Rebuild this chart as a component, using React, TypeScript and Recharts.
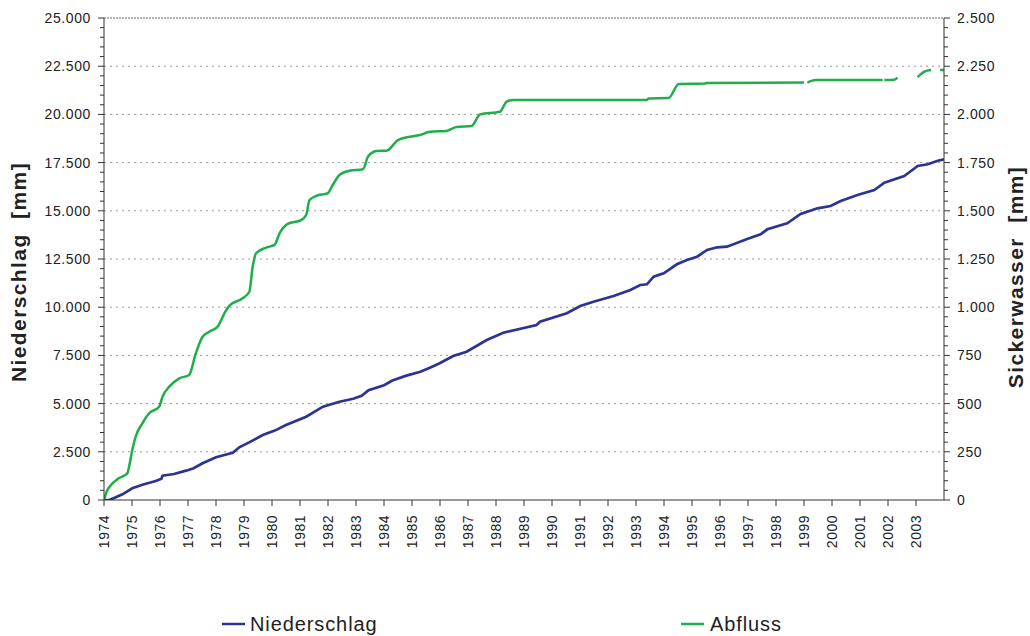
import React from "react";
import { LineChart, Line, XAxis, YAxis, ReferenceLine } from "recharts";

// Cumulative precipitation, left axis [mm]
const niederschlagZeit = [
  1974.0, 1974.18, 1974.4, 1974.66, 1975.01, 1975.4, 1975.85, 1976.05, 1976.09, 1976.5,
  1976.93, 1977.2, 1977.52, 1978.0, 1978.6, 1978.83, 1979.2, 1979.67, 1980.1, 1980.5,
  1981.22, 1981.82, 1982.41, 1982.9, 1983.2, 1983.45, 1984.0, 1984.3, 1984.8, 1985.3,
  1985.7, 1985.99, 1986.47, 1986.95, 1987.67, 1988.26, 1989.45, 1989.57, 1990.53, 1991.01,
  1991.48, 1992.2, 1992.8, 1993.15, 1993.39, 1993.63, 1993.99, 1994.46, 1994.82, 1995.18,
  1995.54, 1995.9, 1996.25, 1996.97, 1997.45, 1997.69, 1998.4, 1998.88, 1999.48, 1999.95,
  2000.31, 2000.91, 2001.51, 2001.87, 2002.58, 2003.06, 2003.42, 2003.78, 2004.0,
];
const niederschlagMm = [
  0, 0, 130, 295, 605, 800, 985, 1100, 1261, 1350,
  1521, 1650, 1903, 2215, 2454, 2734, 3000, 3371, 3600, 3890,
  4321, 4839, 5099, 5250, 5400, 5700, 5950, 6200, 6450, 6650,
  6900, 7090, 7469, 7692, 8299, 8679, 9077, 9248, 9684, 10062,
  10285, 10581, 10892, 11151, 11187, 11581, 11758, 12225, 12448, 12620,
  12967, 13107, 13138, 13538, 13779, 14040, 14350, 14834, 15128, 15249,
  15508, 15819, 16079, 16459, 16805, 17324, 17412, 17599, 17672,
];

// Cumulative runoff, right axis [mm]; null = missing record
const abflussZeit = [
  1974.0, 1974.1, 1974.25, 1974.5, 1974.83, 1974.92, 1975.01, 1975.13, 1975.37, 1975.61,
  1975.97, 1976.09, 1976.33, 1976.69, 1977.04, 1977.28, 1977.52, 1977.76, 1978.06, 1978.3,
  1978.48, 1978.95, 1979.19, 1979.31, 1979.43, 1979.79, 1980.09, 1980.27, 1980.56, 1981.04,
  1981.22, 1981.34, 1981.58, 1981.99, 1982.17, 1982.41, 1982.77, 1983.25, 1983.43, 1983.73,
  1984.09, 1984.5, 1984.92, 1985.28, 1985.64, 1986.23, 1986.59, 1987.13, 1987.43, 1988.14,
  1988.38, 1988.62, 1993.39, 1993.45, 1994.16, 1994.53, 1995.48, 1995.5, 1999.0, 1999.06,
  1999.12, 1999.42, 2001.81, 2001.84, 2001.87, 2002.22, 2002.34, 2002.7, 2003.06, 2003.3,
  2003.54, 2003.7, 2003.86, 2004.0,
];
const abflussMm = [
  0, 45, 78, 110, 138, 190, 259, 328, 398, 450,
  484, 536, 588, 631, 648, 761, 847, 873, 899, 968,
  1008, 1046, 1080, 1210, 1280, 1309, 1323, 1383, 1432, 1452,
  1478, 1556, 1577, 1591, 1634, 1686, 1708, 1715, 1781, 1810,
  1812, 1867, 1884, 1893, 1910, 1914, 1935, 1940, 2000, 2014,
  2066, 2075, 2075, 2083, 2085, 2158, 2160, 2163, 2165, null,
  2165, 2178, 2178, null, 2178, 2180, 2191, null, 2193, 2222,
  2230, null, 2230, 2230,
];

const jahre = Array.from({ length: 30 }, (_, i) => 1974 + i);
const linksTicks = Array.from({ length: 51 }, (_, i) => i * 500);
const rechtsTicks = Array.from({ length: 51 }, (_, i) => i * 50);
const gitterWerte = [2500, 5000, 7500, 10000, 12500, 15000, 17500, 20000, 22500];

const niederschlag = niederschlagZeit.map((t, i) => ({ t, v: niederschlagMm[i] }));
const abfluss = abflussZeit.map((t, i) => ({ t, v: abflussMm[i] }));

const FONT = "'Liberation Sans', Arial, sans-serif";
const BLAU = "#2b3492";
const GRUEN = "#1fae4b";
const ACHSE = "#333";

const fmt = (v: number) => String(v).replace(/\B(?=(\d{3})+(?!\d))/g, ".");

function LinksTick({ x, y, payload }: any) {
  const major = payload.value % 2500 === 0;
  return (
    <g>
      <line x1={x - (major ? 6 : 4)} x2={x} y1={y} y2={y} stroke={ACHSE} />
      {major && (
        <text x={x - 13} y={y} textAnchor="end" dominantBaseline="central" fontSize={14}
          letterSpacing={0.6} fill="#222" fontFamily={FONT}>
          {fmt(payload.value)}
        </text>
      )}
    </g>
  );
}

function RechtsTick({ x, y, payload }: any) {
  const major = payload.value % 250 === 0;
  return (
    <g>
      <line x1={x} x2={x + (major ? 6 : 4)} y1={y} y2={y} stroke={ACHSE} />
      {major && (
        <text x={x + 13} y={y} textAnchor="start" dominantBaseline="central" fontSize={14}
          letterSpacing={0.6} fill="#222" fontFamily={FONT}>
          {fmt(payload.value)}
        </text>
      )}
    </g>
  );
}

function JahrTick({ x, y, payload }: any) {
  return (
    <g>
      <line x1={x} x2={x} y1={y} y2={y + 6} stroke={ACHSE} />
      <text x={x} y={y + 15} transform={`rotate(-90, ${x}, ${y + 15})`} textAnchor="end"
        dominantBaseline="central" fontSize={14} letterSpacing={0.5} fill="#222" fontFamily={FONT}>
        {payload.value}
      </text>
    </g>
  );
}

export default function App() {
  return (
    <div style={{ position: "absolute", left: 0, top: 0, width: 1030, height: 636, background: "#fff" }}>
      <LineChart width={1030} height={636} margin={{ top: 18, right: 10, bottom: 86, left: 10 }}>
        <XAxis dataKey="t" type="number" domain={[1974, 2004]} ticks={jahre} interval={0}
          tick={<JahrTick />} tickLine={false} tickSize={0} tickMargin={0} height={50}
          axisLine={{ stroke: ACHSE }} allowDataOverflow />
        <YAxis yAxisId="links" orientation="left" domain={[0, 25000]} ticks={linksTicks} interval={0}
          tick={<LinksTick />} tickLine={false} tickSize={0} tickMargin={0} width={94}
          axisLine={{ stroke: ACHSE }} allowDataOverflow />
        <YAxis yAxisId="rechts" orientation="right" domain={[0, 2500]} ticks={rechtsTicks} interval={0}
          tick={<RechtsTick />} tickLine={false} tickSize={0} tickMargin={0} width={76}
          axisLine={{ stroke: ACHSE }} allowDataOverflow />
        {gitterWerte.map((g) => (
          <ReferenceLine key={g} yAxisId="links" y={g} stroke="#9a9a9a" strokeDasharray="2 4" />
        ))}
        <ReferenceLine yAxisId="links" y={25000} stroke="#666" strokeDasharray="2 1" />
        <Line data={niederschlag} yAxisId="links" dataKey="v" type="linear" stroke={BLAU}
          strokeWidth={2.7} dot={false} isAnimationActive={false} />
        <Line data={abfluss} yAxisId="rechts" dataKey="v" type="monotoneX" stroke={GRUEN}
          strokeWidth={2.5} dot={false} connectNulls={false} isAnimationActive={false} />
      </LineChart>
      <svg width={1030} height={636} style={{ position: "absolute", left: 0, top: 0, pointerEvents: "none" }}>
        <text x={18} y={272} transform="rotate(-90, 18, 272)" textAnchor="middle" dominantBaseline="central"
          fontSize={21} fontWeight="bold" fill="#222" fontFamily={FONT} letterSpacing={1.4}>
          {"Niederschlag\u00a0 [mm]"}
        </text>
        <text x={1015} y={277} transform="rotate(-90, 1015, 277)" textAnchor="middle" dominantBaseline="central"
          fontSize={21} fontWeight="bold" fill="#222" fontFamily={FONT} letterSpacing={1.4}>
          {"Sickerwasser\u00a0 [mm]"}
        </text>
        <line x1={222} x2={245} y1={624} y2={624} stroke={BLAU} strokeWidth={2.5} />
        <text x={250} y={624} dominantBaseline="central" fontSize={20} letterSpacing={0.9} fill="#222" fontFamily={FONT}>
          Niederschlag
        </text>
        <line x1={681} x2={704} y1={624} y2={624} stroke={GRUEN} strokeWidth={2.5} />
        <text x={710} y={624} dominantBaseline="central" fontSize={20} letterSpacing={0.9} fill="#222" fontFamily={FONT}>
          Abfluss
        </text>
      </svg>
    </div>
  );
}
